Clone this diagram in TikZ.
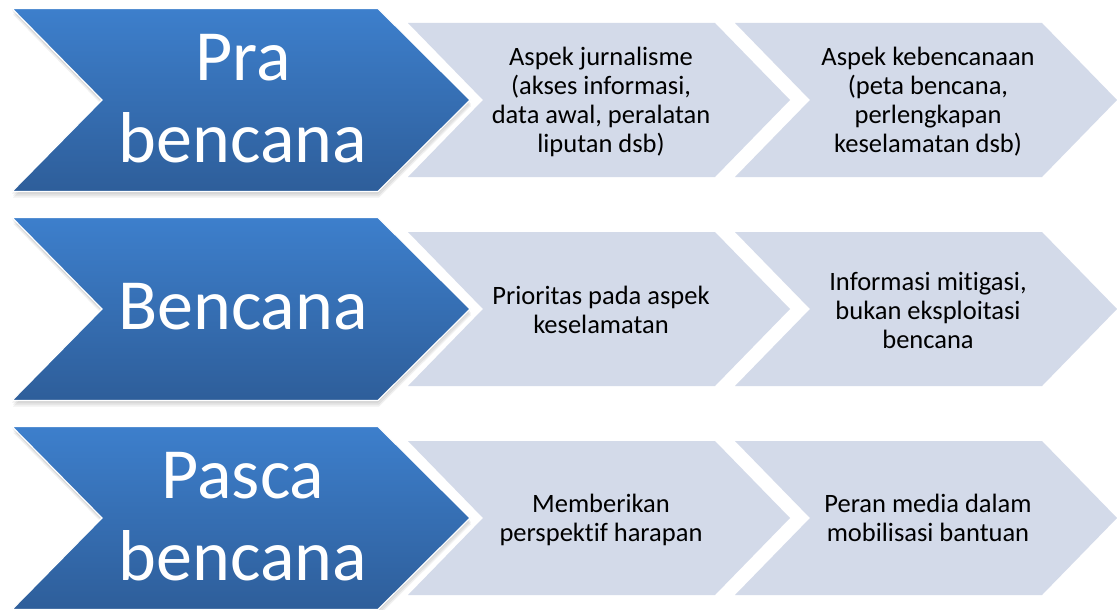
\documentclass[tikz,border=0pt]{standalone}
\usepackage{fontspec}
\setmainfont[Ligatures={NoCommon,NoContextual}]{Carlito}
\definecolor{bluetop}{HTML}{3D7FCC}
\definecolor{bluebot}{HTML}{2E5E9A}
\definecolor{greyfill}{HTML}{D3DAE9}
\tikzset{
  bluechev/.style={top color=bluetop,bottom color=bluebot,draw=white,line width=1.2pt},
  greychev/.style={fill=greyfill,draw=none},
  shadowchev/.style={fill=black,opacity=0.06,draw=none},
  bigtext/.style={text=white,font=\fontsize{72}{82}\selectfont,align=center,inner sep=0pt},
  smalltext/.style={text=black,font=\fontsize{26.5}{29}\selectfont,align=center,inner sep=0pt}
}
\newcommand\bluechevron[1]{%
  \foreach \dx/\dy in {0/2,1/4,1/6}{%
    \path[shadowchev] (12+\dx,{#1-91.5+\dy}) -- (378+\dx,{#1-91.5+\dy}) -- (470+\dx,{#1+\dy}) -- (378+\dx,{#1+91.5+\dy}) -- (12+\dx,{#1+91.5+\dy}) -- (102+\dx,{#1+\dy}) -- cycle;}
  \path[bluechev] (12,{#1-91.5}) -- (378,{#1-91.5}) -- (470,#1) -- (378,{#1+91.5}) -- (12,{#1+91.5}) -- (102,#1) -- cycle;}
\newcommand\greychevron[2]{%
  \path[greychev] (#1,{#2-77}) -- ({#1+307},{#2-77}) -- ({#1+382},#2) -- ({#1+307},{#2+77}) -- (#1,{#2+77}) -- ({#1+75},#2) -- cycle;}
\begin{document}
\begin{tikzpicture}[x=1pt,y=-1pt]
\useasboundingbox[fill=white] (0,0) rectangle (1117,610);
% row 1
\greychevron{735}{100}
\greychevron{408}{100}
\bluechevron{100}
% row 2
\greychevron{735}{309}
\greychevron{408}{309}
\bluechevron{309}
% row 3
\greychevron{735}{518}
\greychevron{408}{518}
\bluechevron{518}
% texts
\node[bigtext] (t1) at (243,98.5) {Pra\\bencana};
\node[bigtext] (t2) at (243,306.5) {Bencana};
\node[bigtext] (t3) at (243,516.5) {Pasca\\bencana};
\node[smalltext] (a1) at (601,102) {Aspek jurnalisme\\(akses informasi,\\data awal, peralatan\\liputan dsb)};
\node[smalltext] (b1) at (928,102) {Aspek kebencanaan\\(peta bencana,\\perlengkapan\\keselamatan dsb)};
\node[smalltext] (a2) at (601,310) {Prioritas pada aspek\\keselamatan};
\node[smalltext] (b2) at (928,310.5) {Informasi mitigasi,\\bukan eksploitasi\\bencana};
\node[smalltext] (a3) at (601,520) {Memberikan\\perspektif harapan};
\node[smalltext] (b3) at (928,517.5) {Peran media dalam\\mobilisasi bantuan};
\end{tikzpicture}
\end{document}
